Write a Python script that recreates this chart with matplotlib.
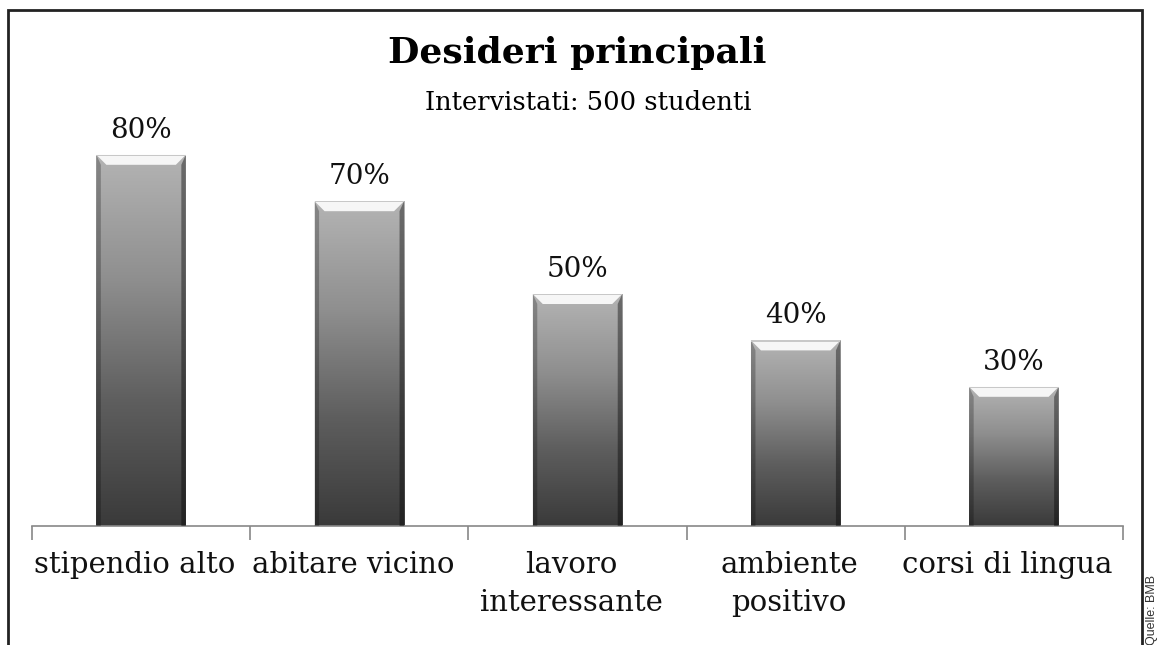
import numpy as np
import matplotlib.pyplot as plt
from matplotlib.patches import Rectangle, Polygon
from matplotlib.colors import LinearSegmentedColormap

categories = ['stipendio alto', 'abitare vicino', 'lavoro\ninteressante',
              'ambiente\npositivo', 'corsi di lingua']
values = [80, 70, 50, 40, 30]
labels = ['80%', '70%', '50%', '40%', '30%']

W, H = 1161, 645
fig = plt.figure(figsize=(W / 100, H / 100), dpi=100)
serif = 'DejaVu Serif'

# axes placed in pixels: x 32..1123, baseline at y=526
left, right, base, top = 32, 1123, 526, 62
ax = fig.add_axes([left / W, 1 - base / H, (right - left) / W, (base - top) / H])
ax.set_xlim(-0.5, len(values) - 0.5)
ax.set_ylim(0, 100)

bars = ax.bar(range(len(values)), values, width=0.41, color='none', edgecolor='none')

px_x = len(values) / (right - left)      # data units per pixel
px_y = 100 / (base - top)

grad = np.linspace(0, 1, 256).reshape(-1, 1)
cmap = LinearSegmentedColormap.from_list('g', ['#3a3a3a', '#5e5e5e', '#8f8f8f', '#b4b4b4'])

for b, lab in zip(bars, labels):
    x0, w, h = b.get_x(), b.get_width(), b.get_height()
    im = ax.imshow(grad, extent=[x0, x0 + w, 0, h], origin='lower', cmap=cmap,
                   aspect='auto', zorder=2)
    im.set_clip_path(b)
    bx, by = 10 * px_x, 10 * px_y
    # top bevel highlight
    ax.add_patch(Polygon([[x0, h], [x0 + w, h], [x0 + w - bx, h - by], [x0 + bx, h - by]],
                         closed=True, facecolor='#f6f6f6', edgecolor='none', zorder=3))
    # side bevels
    ax.add_patch(Polygon([[x0, h], [x0 + bx * 0.45, h - by], [x0 + bx * 0.45, 0], [x0, 0]],
                         closed=True, facecolor='black', alpha=0.25, edgecolor='none', zorder=3))
    ax.add_patch(Polygon([[x0 + w, h], [x0 + w - bx * 0.45, h - by], [x0 + w - bx * 0.45, 0], [x0 + w, 0]],
                         closed=True, facecolor='black', alpha=0.4, edgecolor='none', zorder=3))
    ax.add_patch(Rectangle((x0, h - 1.2 * px_y), w, 1.2 * px_y, facecolor='#c8c8c8',
                           edgecolor='none', zorder=3))
    ax.text(x0 + w / 2, h + 11 * px_y, lab, ha='center', va='bottom',
            fontsize=20, family=serif, color='#111111')

for s in ['top', 'right', 'left']:
    ax.spines[s].set_visible(False)
ax.spines['bottom'].set_color('#888888')
ax.spines['bottom'].set_linewidth(1.2)
ax.set_yticks([])
ax.set_xticks(np.arange(-0.5, len(values)))
ax.set_xticklabels([])
ax.tick_params(axis='x', length=10, color='#888888', width=1.2)
for i, c in enumerate(categories):
    ax.text(i - 0.03, -25 * px_y, c, ha='center', va='top', fontsize=21, family=serif,
            color='#111111', linespacing=1.45)

fig.text(577 / W, 1 - 53 / H, 'Desideri principali', ha='center',
         va='center', fontsize=26, fontweight='bold', family=serif)
fig.text(588 / W, 1 - 103 / H, 'Intervistati: 500 studenti',
         ha='center', va='center', fontsize=18.5, family=serif)

# frame around the chart (open at the bottom edge)
fig.add_artist(Rectangle((8 / W, -0.05), (1142 - 8) / W, 1.05 - 10 / H,
                         transform=fig.transFigure, fill=False, edgecolor='#222222',
                         linewidth=2))
fig.text(1152 / W, 0.0, 'Quelle: BMB', rotation=90, ha='center', va='bottom',
         fontsize=9, family='Liberation Sans', color='#333333')

fig.savefig('out.png', dpi=100)
